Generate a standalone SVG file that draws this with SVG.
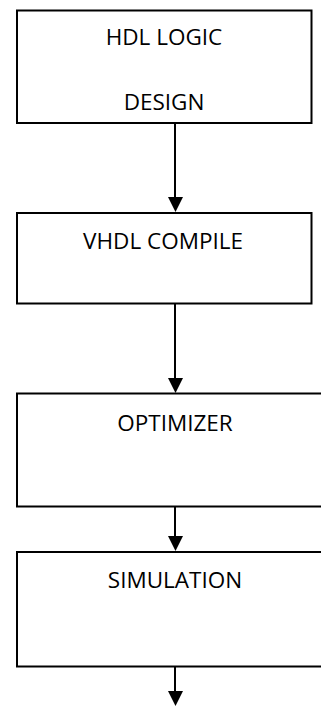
<svg xmlns="http://www.w3.org/2000/svg" width="321" height="707" viewBox="0 0 321 707">
  <style>
    .box { fill: #ffffff; stroke: #000000; stroke-width: 2; }
    .lbl { font-family: "Open Sans", "Liberation Sans", sans-serif; font-size: 22.5px; fill: #000000; text-anchor: middle; }
    .wire { stroke: #000000; stroke-width: 2; fill: none; }
    .head { fill: #000000; stroke: none; }
  </style>
  <rect width="321" height="707" fill="#ffffff"/>

  <g id="connectors">
    <line class="wire" x1="175" y1="123" x2="175" y2="198"/>
    <polygon class="head" points="168,197 183,197 175.5,212"/>
    <line class="wire" x1="175" y1="304" x2="175" y2="379"/>
    <polygon class="head" points="168,378 183,378 175.5,393"/>
    <line class="wire" x1="175" y1="507" x2="175" y2="537"/>
    <polygon class="head" points="168,536 183,536 175.5,551"/>
    <line class="wire" x1="175" y1="667" x2="175" y2="692"/>
    <polygon class="head" points="168,691 183,691 175.5,706"/>
  </g>

  <g id="hdl-logic-design">
    <rect class="box" x="17" y="10.5" width="294.5" height="112.5"/>
    <text class="lbl" x="164" y="45">HDL LOGIC</text>
    <text class="lbl" x="164" y="110">DESIGN</text>
  </g>

  <g id="vhdl-compile">
    <rect class="box" x="17" y="213" width="294.5" height="90.5"/>
    <text class="lbl" x="163" y="249">VHDL COMPILE</text>
  </g>

  <g id="optimizer">
    <rect class="box" x="17" y="393.5" width="320" height="113"/>
    <text class="lbl" x="175" y="431">OPTIMIZER</text>
  </g>

  <g id="simulation">
    <rect class="box" x="17" y="552" width="320" height="114.5"/>
    <text class="lbl" x="175" y="588">SIMULATION</text>
  </g>
</svg>
